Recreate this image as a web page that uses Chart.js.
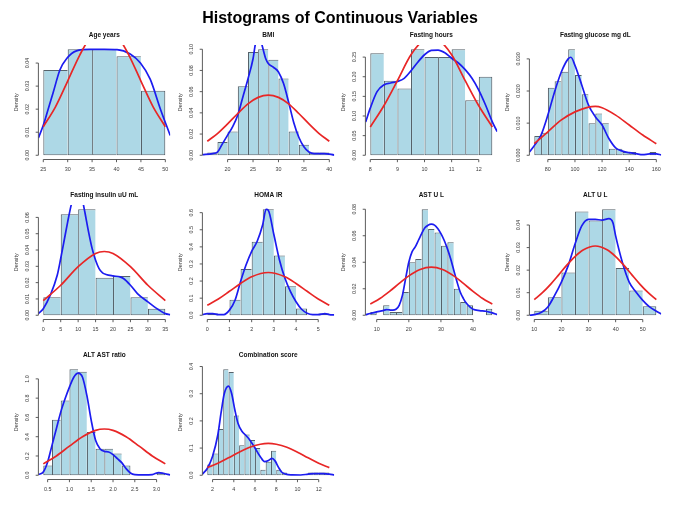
<!DOCTYPE html>
<html>
<head>
<meta charset="utf-8">
<script src="https://cdn.jsdelivr.net/npm/chart.js@4.4.1/dist/chart.umd.min.js"></script>
<style>
  html, body { margin: 0; padding: 0; background: #ffffff; }
  #wrap { position: relative; width: 680px; height: 518px; overflow: hidden; background: #fff; }
  #mainTitle { position: absolute; left: 0; top: 10px; width: 680px; text-align: center;
    font: bold 16px "Liberation Sans", Arial, sans-serif; line-height: 16px; color: #000; z-index: 20; }
  canvas { position: absolute; }
</style>
</head>
<body>
<div id="wrap">
  <div id="mainTitle">Histograms of Continuous Variables</div>
</div>
<script>
// ---------- Age years ----------
const ageBreaks = [25, 30, 35, 40, 45, 50];
const ageDensity = [0.037, 0.046, 0.046, 0.043, 0.028];
const ageKdeX = [24, 25, 26, 27, 28.4, 29.8, 31.8, 34.6, 37.5, 40.1, 42.8, 44.9, 46.9, 49, 51];
const ageKdeY = [0.0075, 0.013, 0.020, 0.027, 0.037, 0.042, 0.0453, 0.0459, 0.0459, 0.0458, 0.0439, 0.040, 0.033, 0.020, 0.0086];
const ageNormX = [25, 27.5, 30, 32.5, 35, 37.5, 40, 42.5, 45, 47.5, 50];
const ageNormY = [0.0124, 0.021, 0.0322, 0.0436, 0.0523, 0.0554, 0.0523, 0.0436, 0.0322, 0.021, 0.0124];
const ageXTicks = [25, 30, 35, 40, 45, 50];
const ageYTicks = [0, 0.01, 0.02, 0.03, 0.04];

// ---------- BMI ----------
const bmiBreaks = [16, 18, 20, 22, 24, 26, 28, 30, 32, 34, 36, 38, 40];
const bmiDensity = [0.0025, 0.0125, 0.0225, 0.065, 0.0975, 0.1, 0.09, 0.0725, 0.0225, 0.01, 0.0025, 0.0025];
const bmiKdeX = [15, 17, 18, 19, 20, 21, 22, 23, 24, 25, 25.5, 26.1, 26.7, 27.5, 28, 29, 30, 31, 32, 33, 34, 35, 36, 37, 39, 41];
const bmiKdeY = [0.0006, 0.0016, 0.003, 0.011, 0.019, 0.027, 0.038, 0.055, 0.072, 0.091, 0.106, 0.114, 0.105, 0.091, 0.0865, 0.083, 0.0786, 0.0676, 0.050, 0.031, 0.017, 0.008, 0.003, 0.0016, 0.0016, 0.0002];
const bmiNormX = [16, 18, 20, 22, 24, 26, 28, 30, 32, 34, 36, 38, 40];
const bmiNormY = [0.0132, 0.0205, 0.0296, 0.0394, 0.0485, 0.0546, 0.0568, 0.0546, 0.0485, 0.0394, 0.0296, 0.0205, 0.0132];
const bmiXTicks = [20, 25, 30, 35, 40];
const bmiYTicks = [0, 0.02, 0.04, 0.06, 0.08, 0.10];

// ---------- Fasting hours ----------
const fastBreaks = [8, 8.5, 9, 9.5, 10, 10.5, 11, 11.5, 12, 12.5];
const fastDensity = [0.26, 0.19, 0.17, 0.27, 0.25, 0.25, 0.27, 0.14, 0.20];
const fastKdeX = [7.83, 8, 8.25, 8.5, 8.75, 9, 9.25, 9.5, 9.75, 10, 10.25, 10.5, 10.75, 11, 11.25, 11.5, 11.75, 12, 12.25, 12.5, 12.68];
const fastKdeY = [0.085, 0.12, 0.162, 0.179, 0.184, 0.188, 0.196, 0.215, 0.237, 0.256, 0.267, 0.268, 0.261, 0.247, 0.235, 0.218, 0.196, 0.166, 0.128, 0.085, 0.06];
const fastNormX = [8, 8.5, 9, 9.5, 10, 10.25, 10.5, 11, 11.5, 12, 12.5];
const fastNormY = [0.072, 0.126, 0.19, 0.256, 0.295, 0.30, 0.295, 0.256, 0.19, 0.126, 0.072];
const fastXTicks = [8, 9, 10, 11, 12];
const fastYTicks = [0, 0.05, 0.10, 0.15, 0.20, 0.25];

// ---------- Fasting glucose ----------
const gluBreaks = [70, 75, 80, 85, 90, 95, 100, 105, 110, 115, 120, 125, 130, 135, 140, 145, 150, 155, 160];
const gluDensity = [0.006, 0.007, 0.021, 0.023, 0.026, 0.033, 0.025, 0.019, 0.010, 0.013, 0.010, 0.002, 0.002, 0.001, 0.001, 0, 0, 0.001];
const gluKdeX = [66.4, 70, 75, 80, 85, 90, 95, 97, 100, 105, 110, 115, 120, 125, 130, 135, 140, 145, 150, 155, 160, 163.6];
const gluKdeY = [0.001, 0.003, 0.0063, 0.0125, 0.0198, 0.026, 0.030, 0.0305, 0.028, 0.0219, 0.0156, 0.012, 0.0094, 0.0052, 0.0023, 0.0013, 0.0008, 0.0005, 0.0002, 0.0004, 0.0004, 0.0001];
const gluNormX = [70, 80, 90, 100, 110, 115, 120, 130, 140, 150, 160];
const gluNormY = [0.0036, 0.0073, 0.011, 0.0135, 0.015, 0.0152, 0.0148, 0.0125, 0.0094, 0.0063, 0.0036];
const gluXTicks = [80, 100, 120, 140, 160];
const gluYTicks = [0, 0.01, 0.02, 0.03];

// ---------- Fasting insulin ----------
const insBreaks = [0, 5, 10, 15, 20, 25, 30, 35];
const insDensity = [0.011, 0.062, 0.065, 0.023, 0.024, 0.011, 0.004];
const insKdeX = [-1.4, 0, 2, 4, 5, 6, 7, 8, 9, 10, 11, 11.5, 12, 13, 14, 15, 16, 17, 18, 20, 22, 23, 25, 27, 30, 33, 35, 36.4];
const insKdeY = [0.001, 0.004, 0.0123, 0.0245, 0.0348, 0.046, 0.0573, 0.0675, 0.075, 0.078, 0.075, 0.068, 0.0624, 0.051, 0.041, 0.0337, 0.0286, 0.026, 0.025, 0.0241, 0.0235, 0.0225, 0.0184, 0.0133, 0.0082, 0.0035, 0.001, 0.0004];
const insNormX = [0, 5, 10, 15, 17.5, 20, 25, 30, 35];
const insNormY = [0.009, 0.0184, 0.0298, 0.0379, 0.0391, 0.0379, 0.0298, 0.0184, 0.009];
const insXTicks = [0, 5, 10, 15, 20, 25, 30, 35];
const insYTicks = [0, 0.01, 0.02, 0.03, 0.04, 0.05, 0.06];

// ---------- HOMA IR ----------
const homaBreaks = [0, 0.5, 1, 1.5, 2, 2.5, 3, 3.5, 4, 4.5, 5, 5.5];
const homaDensity = [0.01, 0, 0.09, 0.27, 0.43, 0.62, 0.35, 0.17, 0.04, 0, 0.01];
const homaKdeX = [-0.22, 0, 0.25, 0.5, 0.75, 1, 1.25, 1.5, 1.75, 2, 2.25, 2.5, 2.65, 2.75, 3, 3.25, 3.5, 3.75, 4, 4.25, 4.5, 4.75, 5, 5.3, 5.5, 5.72];
const homaKdeY = [0.003, 0.01, 0.01, 0.004, 0.004, 0.03, 0.088, 0.197, 0.295, 0.374, 0.433, 0.531, 0.62, 0.614, 0.472, 0.325, 0.216, 0.138, 0.079, 0.035, 0.012, 0.004, 0.004, 0.01, 0.004, 0.002];
const homaNormX = [0, 0.5, 1, 1.5, 2, 2.75, 3.5, 4, 4.5, 5, 5.5];
const homaNormY = [0.059, 0.095, 0.14, 0.186, 0.225, 0.25, 0.225, 0.186, 0.14, 0.095, 0.059];
const homaXTicks = [0, 1, 2, 3, 4, 5];
const homaYTicks = [0, 0.1, 0.2, 0.3, 0.4, 0.5, 0.6];

// ---------- AST U L ----------
const astBreaks = [8, 10, 12, 14, 16, 18, 20, 22, 24, 26, 28, 30, 32, 34, 36, 38, 40, 42, 44, 46];
const astDensity = [0.0025, 0, 0.0075, 0.0025, 0.0025, 0.0175, 0.04, 0.0425, 0.08, 0.065, 0.0625, 0.0525, 0.055, 0.02, 0.01, 0.0075, 0, 0, 0.005];
const astKdeX = [6.5, 8, 10, 12, 13, 14, 15, 16, 17, 18, 19, 20, 21, 22, 23, 24, 25, 26, 27, 28, 29, 30, 31, 32, 33, 34, 35, 36, 37, 38, 39, 40, 42, 44, 46, 47.5];
const astKdeY = [0.0003, 0.0013, 0.0025, 0.0035, 0.0043, 0.004, 0.0038, 0.0045, 0.0075, 0.015, 0.0277, 0.040, 0.0478, 0.0516, 0.0566, 0.0616, 0.066, 0.068, 0.0687, 0.068, 0.0654, 0.0616, 0.0566, 0.0503, 0.0428, 0.034, 0.0252, 0.0176, 0.0126, 0.0088, 0.0063, 0.0045, 0.0035, 0.003, 0.0018, 0.0005];
const astNormX = [8, 11, 14, 17, 20, 23.5, 27, 30.5, 34, 37, 40, 43, 46];
const astNormY = [0.0084, 0.0126, 0.018, 0.024, 0.0297, 0.0345, 0.0363, 0.0345, 0.0297, 0.024, 0.018, 0.0126, 0.0084];
const astXTicks = [10, 20, 30, 40];
const astYTicks = [0, 0.02, 0.04, 0.06, 0.08];

// ---------- ALT U L ----------
const altBreaks = [10, 15, 20, 25, 30, 35, 40, 45, 50, 55];
const altDensity = [0.002, 0.008, 0.019, 0.046, 0.042, 0.047, 0.021, 0.011, 0.004];
const altKdeX = [8.2, 10, 12.5, 15, 17.5, 20, 22.5, 25, 27.5, 30, 32.5, 35, 37.5, 39, 40, 42.5, 45, 47.5, 50, 52.5, 55, 56.8];
const altKdeY = [0, 0.0003, 0.0012, 0.0037, 0.0088, 0.0147, 0.022, 0.0315, 0.0396, 0.0425, 0.0425, 0.0422, 0.0428, 0.041, 0.0352, 0.0234, 0.0147, 0.0103, 0.0066, 0.0037, 0.0018, 0.0006];
const altNormX = [10, 13, 16, 19, 22, 25, 28, 32.5, 37, 40, 43, 46, 49, 52, 55];
const altNormY = [0.0069, 0.01, 0.0137, 0.0179, 0.0222, 0.026, 0.0289, 0.0307, 0.0289, 0.026, 0.0222, 0.0179, 0.0137, 0.01, 0.0069];
const altXTicks = [10, 20, 30, 40, 50];
const altYTicks = [0, 0.01, 0.02, 0.03, 0.04];

// ---------- ALT AST ratio ----------
const ratioBreaks = [0.4, 0.6, 0.8, 1.0, 1.2, 1.4, 1.6, 1.8, 2.0, 2.2, 2.4, 2.6, 2.8, 3.0, 3.2];
const ratioDensity = [0.1, 0.575, 0.775, 1.1, 1.075, 0.45, 0.275, 0.275, 0.225, 0.1, 0, 0, 0, 0.025];
const ratioKdeX = [0.29, 0.4, 0.5, 0.6, 0.7, 0.8, 0.9, 1.0, 1.1, 1.2, 1.3, 1.4, 1.5, 1.6, 1.7, 1.8, 1.9, 2.0, 2.1, 2.2, 2.3, 2.4, 2.5, 2.7, 2.9, 3.05, 3.15, 3.31];
const ratioKdeY = [0.007, 0.034, 0.138, 0.31, 0.483, 0.655, 0.793, 0.914, 1.017, 1.059, 1.017, 0.828, 0.569, 0.362, 0.276, 0.248, 0.241, 0.214, 0.172, 0.131, 0.069, 0.024, 0.007, 0.003, 0.007, 0.028, 0.021, 0.003];
const ratioNormX = [0.4, 0.7, 1.0, 1.3, 1.6, 1.8, 2.0, 2.3, 2.6, 2.9, 3.2];
const ratioNormY = [0.118, 0.2, 0.302, 0.40, 0.466, 0.48, 0.466, 0.40, 0.302, 0.2, 0.118];
const ratioXTicks = [0.5, 1.0, 1.5, 2.0, 2.5, 3.0];
const ratioYTicks = [0, 0.2, 0.4, 0.6, 0.8, 1.0];

// ---------- Combination score ----------
const comboBreaks = [1.5, 2, 2.5, 3, 3.5, 4, 4.5, 5, 5.5, 6, 6.5, 7, 7.5, 8, 8.5, 9, 9.5, 10, 10.5, 11, 11.5, 12, 12.5, 13];
const comboDensity = [0.04, 0.08, 0.17, 0.39, 0.38, 0.22, 0.11, 0.15, 0.13, 0.1, 0.02, 0.05, 0.09, 0.02, 0.01, 0, 0, 0, 0, 0.01, 0.01, 0.01, 0.01];
const comboKdeX = [1.04, 1.5, 2.0, 2.5, 2.8, 3.1, 3.5, 3.8, 4.1, 4.4, 4.8, 5.1, 5.5, 6.0, 6.5, 6.9, 7.3, 7.6, 7.9, 8.2, 8.5, 8.9, 9.5, 10.3, 11, 11.5, 12, 12.5, 13, 13.46];
const comboKdeY = [0.004, 0.025, 0.07, 0.15, 0.23, 0.30, 0.328, 0.30, 0.24, 0.19, 0.16, 0.148, 0.13, 0.10, 0.068, 0.05, 0.055, 0.062, 0.052, 0.03, 0.012, 0.004, 0.0015, 0.001, 0.004, 0.006, 0.006, 0.006, 0.004, 0.001];
const comboNormX = [1.5, 2.5, 3.5, 4.5, 5.5, 6.5, 7.25, 8, 9, 10, 11, 12, 13];
const comboNormY = [0.028, 0.044, 0.064, 0.085, 0.103, 0.114, 0.117, 0.114, 0.103, 0.085, 0.064, 0.044, 0.028];
const comboXTicks = [2, 4, 6, 8, 10, 12];
const comboYTicks = [0, 0.1, 0.2, 0.3, 0.4];

const panelTitles = ['Age years', 'BMI', 'Fasting hours', 'Fasting glucose mg dL',
  'Fasting insulin uU mL', 'HOMA IR', 'AST U L', 'ALT U L', 'ALT AST ratio', 'Combination score'];

const panels = [
  { breaks: ageBreaks, density: ageDensity, kdeX: ageKdeX, kdeY: ageKdeY, normX: ageNormX, normY: ageNormY, xTicks: ageXTicks, yTicks: ageYTicks, xd: 0, yd: 2 },
  { breaks: bmiBreaks, density: bmiDensity, kdeX: bmiKdeX, kdeY: bmiKdeY, normX: bmiNormX, normY: bmiNormY, xTicks: bmiXTicks, yTicks: bmiYTicks, xd: 0, yd: 2 },
  { breaks: fastBreaks, density: fastDensity, kdeX: fastKdeX, kdeY: fastKdeY, normX: fastNormX, normY: fastNormY, xTicks: fastXTicks, yTicks: fastYTicks, xd: 0, yd: 2 },
  { breaks: gluBreaks, density: gluDensity, kdeX: gluKdeX, kdeY: gluKdeY, normX: gluNormX, normY: gluNormY, xTicks: gluXTicks, yTicks: gluYTicks, xd: 0, yd: 3 },
  { breaks: insBreaks, density: insDensity, kdeX: insKdeX, kdeY: insKdeY, normX: insNormX, normY: insNormY, xTicks: insXTicks, yTicks: insYTicks, xd: 0, yd: 2 },
  { breaks: homaBreaks, density: homaDensity, kdeX: homaKdeX, kdeY: homaKdeY, normX: homaNormX, normY: homaNormY, xTicks: homaXTicks, yTicks: homaYTicks, xd: 0, yd: 1 },
  { breaks: astBreaks, density: astDensity, kdeX: astKdeX, kdeY: astKdeY, normX: astNormX, normY: astNormY, xTicks: astXTicks, yTicks: astYTicks, xd: 0, yd: 2 },
  { breaks: altBreaks, density: altDensity, kdeX: altKdeX, kdeY: altKdeY, normX: altNormX, normY: altNormY, xTicks: altXTicks, yTicks: altYTicks, xd: 0, yd: 2 },
  { breaks: ratioBreaks, density: ratioDensity, kdeX: ratioKdeX, kdeY: ratioKdeY, normX: ratioNormX, normY: ratioNormY, xTicks: ratioXTicks, yTicks: ratioYTicks, xd: 1, yd: 1 },
  { breaks: comboBreaks, density: comboDensity, kdeX: comboKdeX, kdeY: comboKdeY, normX: comboNormX, normY: comboNormY, xTicks: comboXTicks, yTicks: comboYTicks, xd: 0, yd: 1 }
];

const FONT = '"Liberation Sans", Arial, Helvetica, sans-serif';
const COL_STEP = 163.6, ROW_STEP = 160, CW = 172, CH = 180;

function rAxesPlugin(p, title) {
  return {
    id: 'rAxes',
    afterDraw(chart) {
      const { ctx, chartArea: a } = chart;
      const xs = chart.scales.x, ys = chart.scales.y;
      ctx.save();
      ctx.strokeStyle = '#4a4a4a';
      ctx.lineWidth = 0.9;
      ctx.fillStyle = '#3c3c3c';
      // x axis
      const xp = p.xTicks.map(v => xs.getPixelForValue(v));
      const yb = a.bottom;
      ctx.beginPath();
      ctx.moveTo(xp[0], yb); ctx.lineTo(xp[xp.length - 1], yb);
      xp.forEach(px => { ctx.moveTo(px, yb); ctx.lineTo(px, yb + 2.7); });
      ctx.stroke();
      ctx.font = '5.4px ' + FONT;
      ctx.textAlign = 'center';
      ctx.textBaseline = 'middle';
      p.xTicks.forEach((v, i) => ctx.fillText(v.toFixed(p.xd), xp[i], yb + 9.6));
      // y axis
      const yp = p.yTicks.map(v => ys.getPixelForValue(v));
      ctx.beginPath();
      ctx.moveTo(a.left, yp[0]); ctx.lineTo(a.left, yp[yp.length - 1]);
      yp.forEach(py => { ctx.moveTo(a.left, py); ctx.lineTo(a.left - 2.7, py); });
      ctx.stroke();
      p.yTicks.forEach((v, i) => {
        ctx.save();
        ctx.translate(a.left - 10.4, yp[i]);
        ctx.rotate(-Math.PI / 2);
        ctx.fillText(v.toFixed(p.yd), 0, 0);
        ctx.restore();
      });
      // y title
      ctx.save();
      ctx.translate(a.left - 21.7, (a.top + a.bottom) / 2);
      ctx.rotate(-Math.PI / 2);
      ctx.fillText('Density', 0, 0);
      ctx.restore();
      // panel title
      ctx.fillStyle = '#111';
      ctx.font = 'bold 6.5px ' + FONT;
      ctx.fillText(title, (a.left + a.right) / 2, a.top - 9.3);
      ctx.restore();
    }
  };
}

const wrap = document.getElementById('wrap');
panels.forEach((p, idx) => {
  const col = idx % 4, row = Math.floor(idx / 4);
  const cv = document.createElement('canvas');
  cv.width = CW; cv.height = CH;
  cv.style.left = (col * COL_STEP) + 'px';
  cv.style.top = (row * ROW_STEP) + 'px';
  cv.style.width = CW + 'px';
  cv.style.height = CH + 'px';
  wrap.appendChild(cv);

  const b = p.breaks, n = b.length - 1;
  const xr = b[n] - b[0];
  const dmax = Math.max(...p.density);
  const bars = p.density.map((d, i) => ({ x: (b[i] + b[i + 1]) / 2, y: d }));
  const kde = p.kdeX.map((x, i) => ({ x, y: p.kdeY[i] }));
  const norm = p.normX.map((x, i) => ({ x, y: p.normY[i] }));

  new Chart(cv, {
    type: 'bar',
    data: {
      datasets: [
        { type: 'line', data: norm, borderColor: 'rgb(232,38,38)', borderWidth: 1.7, pointRadius: 0,
          cubicInterpolationMode: 'monotone', fill: false, clip: 0, order: 1 },
        { type: 'line', data: kde, borderColor: 'rgb(28,28,240)', borderWidth: 1.7, pointRadius: 0,
          cubicInterpolationMode: 'monotone', fill: false, clip: 0, order: 2 },
        { type: 'bar', data: bars, backgroundColor: '#ADD8E6', borderColor: '#56626a',
          borderSkipped: false, inflateAmount: 0, barPercentage: 1, categoryPercentage: 1, clip: 0, order: 3,
          borderWidth: (c) => {
            const i = c.dataIndex;
            const nextZero = (i === n - 1) || (p.density[i + 1] === 0);
            return { top: 1, left: 1.1, bottom: 1, right: nextZero ? 1.1 : 0 };
          } }
      ]
    },
    options: {
      responsive: false,
      animation: false,
      events: [],
      layout: { padding: { left: 38.4, right: CW - 170.2, top: 45, bottom: CH - 159.5 } },
      plugins: { legend: { display: false }, tooltip: { enabled: false }, title: { display: false } },
      scales: {
        x: { type: 'linear', display: false, offset: false,
             min: b[0] - 0.04 * xr, max: b[n] + 0.04 * xr,
             afterBuildTicks: (s) => { s.ticks = p.xTicks.map(v => ({ value: v })); } },
        y: { type: 'linear', display: false, min: -0.04 * dmax, max: 1.04 * dmax }
      }
    },
    plugins: [rAxesPlugin(p, panelTitles[idx])]
  });
});
</script>
</body>
</html>
